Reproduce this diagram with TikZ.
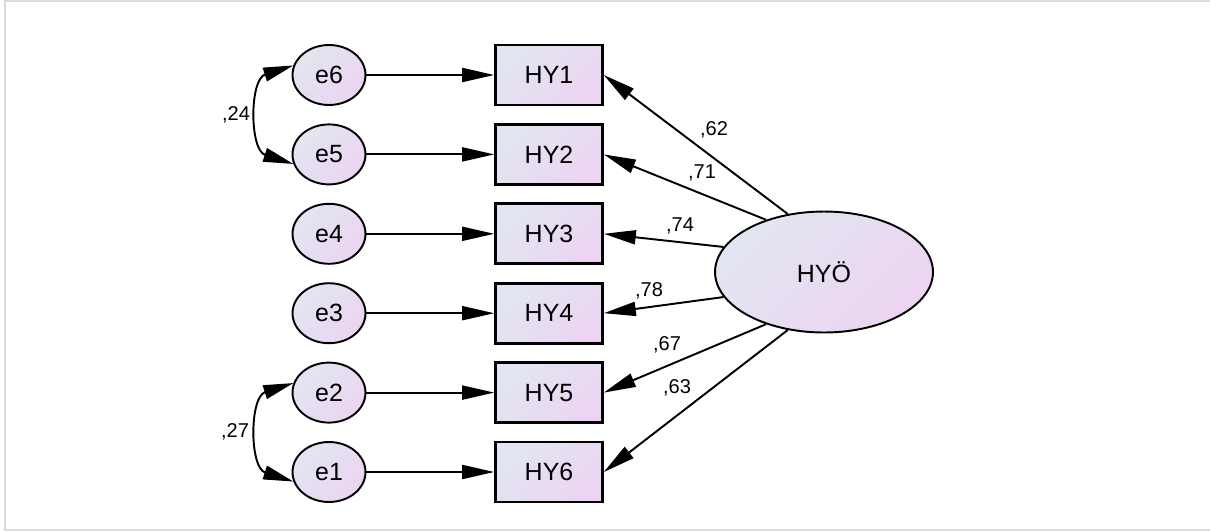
\documentclass[tikz,border=0pt]{standalone}
\usepackage{fontspec}
\setmainfont{Liberation Sans}
\usepackage{tikz}
\usetikzlibrary{arrows.meta,shapes}
\definecolor{shadeA}{RGB}{226,230,240}
\definecolor{shadeB}{RGB}{236,212,242}
\tikzstyle{filled}=[
	top color=shadeA,
	bottom color=shadeB,
	shading angle=45
]
\tikzstyle{error}=[
	filled,
	ellipse,
	draw=black,
	line width=1.1pt,
	minimum width=1.46cm,
	minimum height=1.2cm,
	inner sep=0pt,
	font=\fontsize{14.2}{16}\selectfont
]
\tikzstyle{observed}=[
	filled,
	rectangle,
	draw=black,
	line width=1.5pt,
	minimum width=2.14cm,
	minimum height=1.2cm,
	font=\fontsize{14.2}{16}\selectfont
]
\tikzstyle{latent}=[
	filled,
	ellipse,
	draw=black,
	line width=1.1pt,
	minimum width=4.36cm,
	minimum height=2.42cm,
	font=\fontsize{14.2}{16}\selectfont
]
\tikzstyle{edge}=[
	-{Triangle[length=0.64cm,width=0.28cm]},
	draw=black,
	line width=1.1pt
]
\tikzstyle{covedge}=[
	{Triangle[length=0.6cm,width=0.28cm]}-{Triangle[length=0.6cm,width=0.28cm]},
	draw=black,
	line width=1.1pt
]
\tikzstyle{lbl}=[
	inner sep=0pt,
	font=\fontsize{11.4}{13}\selectfont
]
\begin{document}
\begin{tikzpicture}[x=0.02cm, y=-0.02cm]
\useasboundingbox (0,0) rectangle (1210,531);
\draw[black!14, line width=1.5pt] (1210,1) -- (5,1) -- (5,530) -- (1210,530);

\node[latent] (HYO) at (824,272) {HYÖ};
\foreach \n/\e [count=\i from 0] in {1/6,2/5,3/4,4/3,5/2,6/1} {
  \node[observed] (HY\n) at (549,{75+79.4*\i}) {HY\n};
  \node[error] (e\e) at (329,{75+79.4*\i}) {e\e};
  \draw[edge] (e\e) -- (HY\n);
}

\draw[edge] (HYO.122) -- (HY1.east);
\draw[edge] (HYO.138) -- (HY2.east);
\draw[edge] (HYO.166) -- (HY3.east);
\draw[edge] (HYO.194) -- (HY4.east);
\draw[edge] (HYO.222) -- (HY5.east);
\draw[edge] (HYO.238) -- (HY6.east);

\node[lbl] (w1) at (714,130) {,62};
\node[lbl] (w2) at (702,173) {,71};
\node[lbl] (w3) at (680,226) {,74};
\node[lbl] (w4) at (649,291) {,78};
\node[lbl] (w5) at (667,345) {,67};
\node[lbl] (w6) at (677,388) {,63};

\draw[covedge] (e6.165) .. controls +(-44,14) and +(-44,-14) .. (e5.195);
\draw[covedge] (e2.165) .. controls +(-44,14) and +(-44,-14) .. (e1.195);
\node[lbl] (c1) at (236,115) {,24};
\node[lbl] (c2) at (235,432) {,27};
\end{tikzpicture}
\end{document}
